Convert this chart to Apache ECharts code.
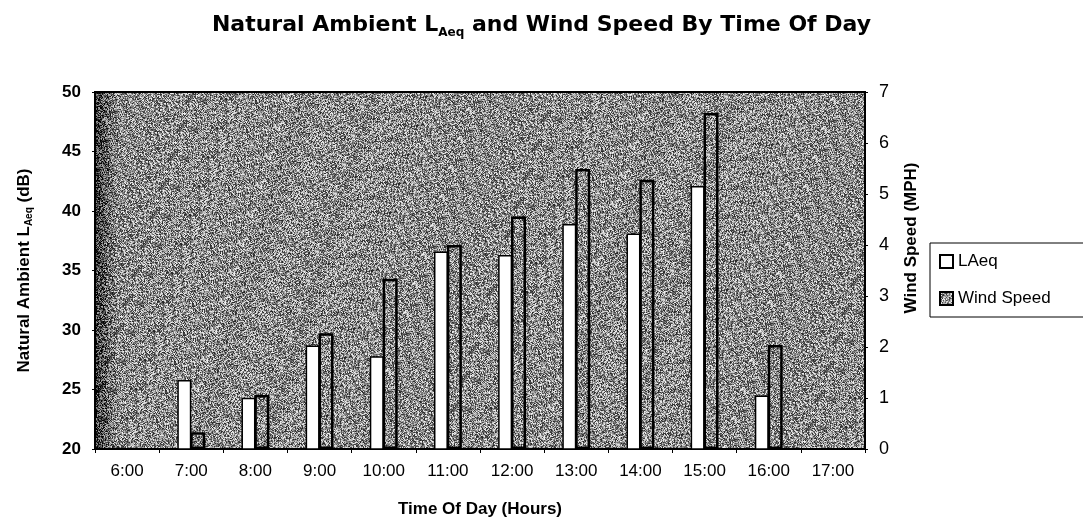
<!DOCTYPE html>
<html>
<head>
<meta charset="utf-8">
<script src="https://cdn.jsdelivr.net/npm/echarts@6/dist/echarts.min.js"></script>
<style>
  html, body { margin: 0; padding: 0; background: #fff; }
  #chart { width: 1083px; height: 529px; }
</style>
</head>
<body>
<div id="chart"></div>
<script>
// Hourly samples
const hours = ['6:00', '7:00', '8:00', '9:00', '10:00', '11:00', '12:00', '13:00', '14:00', '15:00', '16:00', '17:00'];
// Natural ambient LAeq (dB); null where no sample
const laeq = [null, 25.8, 24.3, 28.7, 27.8, 36.6, 36.3, 38.9, 38.1, 42.1, 24.5, null];
// Wind speed (MPH)
const windSpeed = [null, 0.33, 1.06, 2.27, 3.34, 4.0, 4.56, 5.49, 5.28, 6.59, 2.04, null];

const font = 'Liberation Sans, Arial, sans-serif';

// Stippled grey fill for the plot area and the wind bars (deterministic dither),
// with the darker band along the left edge of the plot.
function stippleCanvas(w, h) {
  const c = document.createElement('canvas');
  c.width = w; c.height = h;
  const ctx = c.getContext('2d');
  const img = ctx.createImageData(w, h);
  let s = 12345;
  const next = () => { s = (s * 1103515245 + 12345) & 0x7fffffff; return s / 0x7fffffff; };
  for (let y = 0; y < h; y++) {
    for (let x = 0; x < w; x++) {
      let base = 140;
      const dx = x - 95;
      if (dx >= 0 && dx < 24) base -= 90 * Math.pow(1 - dx / 24, 1.3);
      let v = base + (next() - 0.5) * 210;
      v = Math.max(0, Math.min(255, v));
      const i = (y * w + x) * 4;
      img.data[i] = img.data[i + 1] = img.data[i + 2] = v;
      img.data[i + 3] = 255;
    }
  }
  ctx.putImageData(img, 0, 0);
  return c;
}
const stipple = { image: stippleCanvas(1083, 529), repeat: 'no-repeat' };

const chart = echarts.init(document.getElementById('chart'), null, { renderer: 'canvas' });

chart.setOption({
  animation: false,
  backgroundColor: '#ffffff',
  title: {
    left: 'center',
    top: 5,
    text: '{a|Natural Ambient L}{s|Aeq}{a| and Wind Speed By Time Of Day}',
    textStyle: {
      rich: {
        a: { fontFamily: 'DejaVu Sans, sans-serif', fontWeight: 'bold', fontSize: 22, color: '#000', lineHeight: 30 },
        s: { fontFamily: 'DejaVu Sans, sans-serif', fontWeight: 'bold', fontSize: 12, color: '#000', lineHeight: 30, padding: [15, 0, 0, 0] }
      }
    }
  },
  legend: {
    orient: 'vertical',
    left: 930,
    top: 243,
    backgroundColor: '#fff',
    borderColor: '#000',
    borderWidth: 1,
    borderRadius: 0,
    padding: [10, 40, 10, 9],
    itemGap: 20,
    itemWidth: 13,
    itemHeight: 13,
    icon: 'rect',
    textStyle: { fontFamily: font, fontSize: 17, color: '#000' },
    data: ['LAeq', 'Wind Speed']
  },
  grid: {
    left: 95,
    right: 218,
    top: 92,
    bottom: 80,
    show: true,
    borderColor: '#000',
    borderWidth: 2,
    backgroundColor: stipple
  },
  xAxis: {
    type: 'category',
    data: hours,
    name: 'Time Of Day (Hours)',
    nameLocation: 'middle',
    nameGap: 52,
    nameTextStyle: { fontFamily: font, fontWeight: 'bold', fontSize: 17, color: '#000' },
    axisLine: { lineStyle: { color: '#000', width: 2 } },
    axisTick: { show: true, length: 4, lineStyle: { color: '#000' } },
    axisLabel: { fontFamily: font, fontSize: 17, color: '#000', margin: 14 }
  },
  yAxis: [
    {
      type: 'value',
      min: 20,
      max: 50,
      interval: 5,
      name: '{a|Natural Ambient L}{s|Aeq}{a| (dB)}',
      nameLocation: 'middle',
      nameGap: 60,
      nameRotate: 90,
      nameTextStyle: {
        rich: {
          a: { fontFamily: font, fontWeight: 'bold', fontSize: 17, color: '#000', lineHeight: 22 },
          s: { fontFamily: font, fontWeight: 'bold', fontSize: 10, color: '#000', lineHeight: 22, padding: [10, 0, 0, 0] }
        }
      },
      splitLine: { show: false },
      axisLine: { show: true, lineStyle: { color: '#000', width: 1 } },
      axisTick: { show: true, length: 3, lineStyle: { color: '#000' } },
      axisLabel: { fontFamily: font, fontWeight: 'bold', fontSize: 17, color: '#000', margin: 14 }
    },
    {
      type: 'value',
      min: 0,
      max: 7,
      interval: 1,
      position: 'right',
      splitLine: { show: false },
      axisLine: { show: true, lineStyle: { color: '#000', width: 1 } },
      axisTick: { show: true, length: 3, lineStyle: { color: '#000' } },
      axisLabel: { fontFamily: font, fontSize: 18, color: '#000', margin: 14 }
    }
  ],
  graphic: [
    {
      type: 'text',
      x: 911,
      y: 238,
      rotation: Math.PI / 2,
      style: {
        text: 'Wind Speed (MPH)',
        font: 'bold 17px Liberation Sans, Arial, sans-serif',
        fill: '#000',
        align: 'center',
        verticalAlign: 'middle'
      }
    }
  ],
  series: [
    {
      name: 'LAeq',
      type: 'bar',
      yAxisIndex: 0,
      data: laeq,
      barWidth: 14,
      barGap: '-8%',
      itemStyle: { color: '#ffffff', borderColor: '#000', borderWidth: 1.5 }
    },
    {
      name: 'Wind Speed',
      type: 'bar',
      yAxisIndex: 1,
      data: windSpeed,
      barWidth: 15,
      barGap: '-8%',
      itemStyle: { color: stipple, borderColor: '#000', borderWidth: 2.5 }
    }
  ]
});
</script>
</body>
</html>
